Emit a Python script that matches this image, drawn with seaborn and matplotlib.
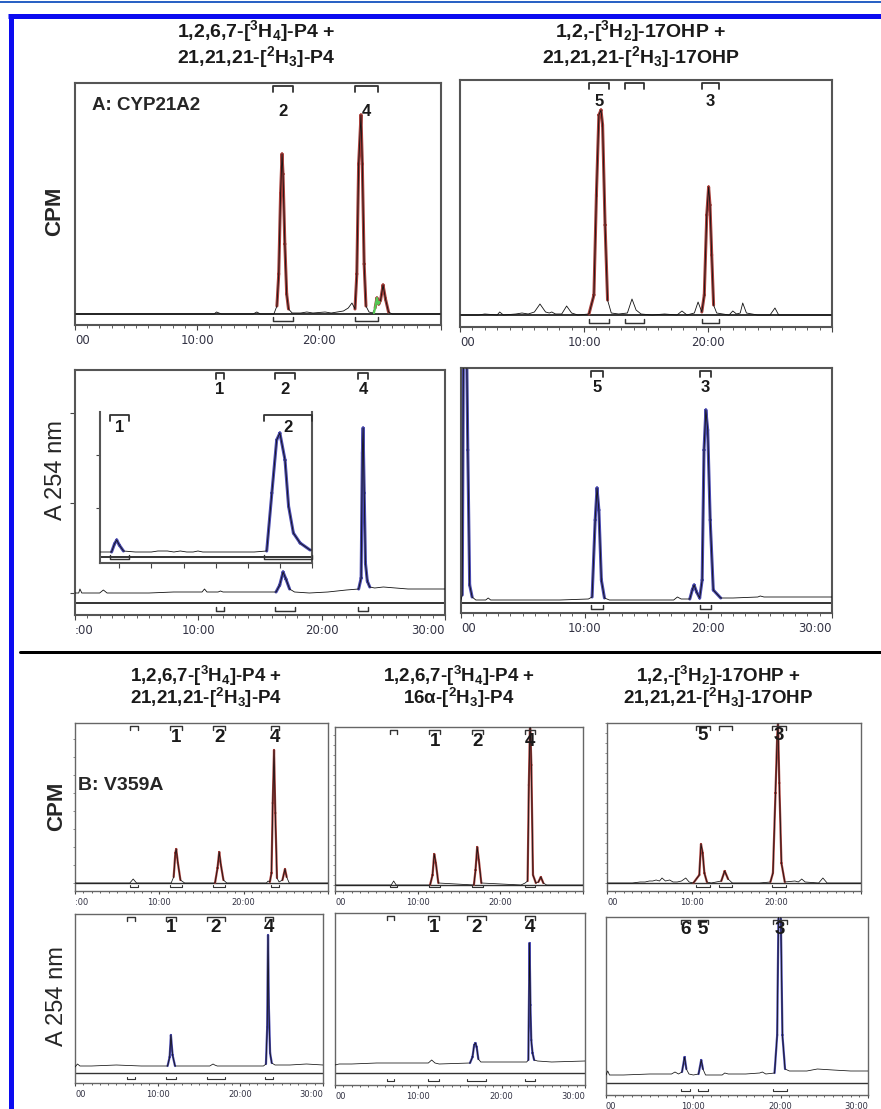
import numpy as np
import seaborn as sns
import matplotlib.pyplot as plt
from matplotlib import transforms
from matplotlib.ticker import MultipleLocator

# ---- values (time in min, signal in relative units) ----
# A: CYP21A2, P4 substrate, radio trace
a_cpm_p4_t = [0, 11.4, 11.6, 11.8, 12.0, 14.6, 14.9, 15.2, 16.3, 16.55, 16.7, 16.85, 16.97, 17.05,
              17.2, 17.35, 17.5, 17.8, 18.5, 19.0, 19.5, 20.5, 21.0, 21.5, 22.0, 22.4, 22.7, 22.95,
              23.1, 23.25, 23.44, 23.55, 23.7, 23.85, 24.1, 24.4, 24.6, 24.75, 24.9, 25.05, 25.25,
              25.45, 25.7, 26.0, 30]
a_cpm_p4_y = [0, 0, 2, 1, 0, 0, 2, 0, 0, 8, 40, 120, 160, 140, 70, 20, 5, 1, 1, 2, 1, 2, 1, 2, 3,
              6, 11, 5, 40, 150, 199, 150, 50, 8, 2, 1, 6, 16, 10, 14, 29, 15, 2, 0, 0]
a_cpm_p4_green_t = [24.5, 24.6, 24.75, 24.85, 24.95]
a_cpm_p4_green_y = [1, 6, 16, 10, 12]
a_cpm_p4_peaks = [(16.2, 17.9, "2"), (22.95, 24.8, "4")]

# A: CYP21A2, 17OHP substrate, radio trace
a_cpm_ohp_t = [0, 1.5, 2.0, 3.0, 3.2, 3.5, 4.5, 5.0, 5.5, 6.0, 6.45, 6.9, 7.2, 7.4, 7.7, 8.2, 8.6,
               9.0, 9.5, 10.4, 10.8, 11.0, 11.2, 11.37, 11.5, 11.7, 11.9, 12.2, 12.8, 13.5, 13.87,
               14.2, 14.6, 15.5, 16.5, 17.5, 17.9, 18.3, 18.9, 19.2, 19.5, 19.7, 19.9, 20.05, 20.16,
               20.3, 20.45, 20.7, 21.2, 21.7, 22.0, 22.3, 22.6, 22.8, 23.1, 24.0, 25.0, 25.4, 25.7,
               26.0, 30]
a_cpm_ohp_y = [0, 0, 1, 0, 3, 0, 1, 2, 1, 3, 11, 3, 2, 3, 1, 1, 9, 2, 0, 1, 20, 120, 200, 205, 190,
               90, 15, 2, 1, 2, 16, 5, 1, 0, 1, 0, 4, 0, 2, 13, 3, 20, 100, 128, 110, 60, 10, 2, 1,
               0, 4, 1, 2, 12, 2, 0, 0, 7, 0, 0, 0]
a_cpm_ohp_peaks = [(10.4, 12.0, "5"), (13.3, 14.8, ""), (19.5, 20.9, "3")]

# A: CYP21A2, P4 substrate, UV trace
a_uv_p4_t = [0, 0.3, 0.4, 0.55, 1.0, 2.0, 2.3, 2.6, 4.0, 6.0, 8.0, 10.3, 10.5, 10.7, 11.6, 11.8,
             12.0, 14.0, 16.3, 16.6, 16.87, 17.1, 17.4, 17.8, 19.0, 20.5, 22.0, 23.0, 23.2, 23.3,
             23.36, 23.45, 23.55, 23.7, 23.9, 24.3, 25.0, 26.0, 27.0, 28.0, 30]
a_uv_p4_y = [0, 0, 4, 0, 0, 0, 3, 0, 0, 0, 1, 1, 4, 1, 1, 2, 1, 1, 1, 8, 21, 14, 4, 1, 0, 1, 3, 4,
             15, 140, 165, 100, 30, 12, 6, 5, 6, 5, 4, 4, 4]
a_uv_p4_peaks = [(11.4, 12.1, "1"), (16.2, 17.8, "2"), (22.95, 23.76, "4")]

# inset: zoom of the same UV trace
inset_t = [11.4, 11.6, 11.76, 11.85, 11.92, 12.0, 12.13, 12.5, 13.0, 13.2, 13.5, 13.7, 13.9, 14.1,
           14.3, 14.45, 14.6, 15.5, 16.2, 16.59, 16.75, 16.9, 17.0, 17.16, 17.27, 17.42, 17.63,
           17.94, 18.0]
inset_y = [1, 1, 1, 9, 13, 8, 2, 1, 1, 2, 2, 1, 2, 1, 1, 2, 1, 1, 1, 2, 60, 113, 120, 93, 47, 20,
           10, 3, 3]
inset_peaks = [(11.7, 12.3, "1"), (16.5, 18.0, "2")]

# A: CYP21A2, 17OHP substrate, UV trace
a_uv_ohp_t = [0, 0.1, 0.2, 0.3, 0.45, 0.55, 0.7, 0.9, 1.2, 2.0, 2.2, 2.4, 5.0, 8.0, 10.3, 10.6,
              10.85, 11.0, 11.15, 11.35, 11.6, 12.0, 14.0, 17.2, 17.5, 17.8, 18.5, 18.7, 18.85,
              19.05, 19.3, 19.5, 19.65, 19.8, 19.95, 20.15, 20.4, 21.0, 22.0, 24.0, 24.2, 24.5,
              26.0, 28.0, 30]
a_uv_ohp_y = [0, 5, 260, 260, 260, 150, 15, 3, 0, 0, 2, 0, 0, 0, 1, 3, 80, 112, 90, 20, 2, 0, 0, 0,
              3, 1, 1, 10, 15, 8, 2, 20, 150, 190, 170, 80, 10, 2, 2, 3, 4, 3, 3, 3, 3]
a_uv_ohp_peaks = [(10.5, 11.5, "5"), (19.3, 20.2, "3")]

# B: V359A, radio traces
b_cpm_p4_t = [0, 6.5, 6.9, 7.3, 11.4, 11.7, 11.9, 12.0, 12.2, 12.5, 13.0, 16.6, 16.9, 17.1, 17.3,
              17.6, 18.0, 22.7, 22.9, 23.1, 23.3, 23.45, 23.6, 23.75, 23.95, 24.2, 24.6, 24.9,
              25.1, 25.4, 30]
b_cpm_p4_y = [0, 0, 4, 0, 0, 6, 30, 34, 20, 3, 0, 0, 15, 31, 18, 3, 0, 0, 2, 1, 10, 80, 133, 70,
              5, 1, 3, 14, 6, 0, 0]
b_cpm_p4_peaks = [(6.5, 7.5, ""), (11.3, 12.7, "1"), (16.4, 17.8, "2"), (23.2, 24.2, "4")]

b_cpm_p4a_t = [0, 6.8, 7.1, 7.4, 11.5, 11.8, 12.0, 12.2, 12.5, 16.8, 17.0, 17.2, 17.4, 17.7, 22.5,
               23.0, 23.3, 23.45, 23.6, 23.75, 23.95, 24.3, 24.6, 24.9, 25.2, 25.6, 30]
b_cpm_p4a_y = [0, 0, 4, 0, 0, 10, 31, 22, 2, 0, 15, 38, 25, 2, 0, 2, 4, 100, 165, 120, 10, 2, 3,
               8, 2, 0, 0]
b_cpm_p4a_peaks = [(6.6, 7.5, ""), (11.4, 12.7, "1"), (16.6, 17.9, "2"), (23.0, 24.2, "4")]

b_cpm_ohp_t = [0, 3.0, 3.9, 4.5, 5.0, 5.4, 5.8, 6.2, 6.5, 6.9, 7.4, 7.8, 8.3, 8.8, 9.3, 9.7, 10.2,
               10.9, 11.1, 11.3, 11.5, 11.8, 12.3, 13.5, 13.9, 14.3, 14.8, 16.0, 18.0, 19.3, 19.6,
               19.9, 20.1, 20.2, 20.35, 20.6, 21.0, 22.2, 22.6, 23.0, 23.4, 25.0, 25.5, 26.0, 30]
b_cpm_ohp_y = [0, 0, 1, 1, 2, 2, 3, 2, 5, 2, 3, 1, 1, 2, 5, 1, 0, 8, 39, 30, 10, 1, 0, 2, 12, 4,
               0, 0, 0, 1, 10, 90, 146, 160, 100, 20, 1, 2, 1, 4, 1, 0, 5, 0, 0]
b_cpm_ohp_peaks = [(10.5, 12.2, "5"), (13.2, 14.8, ""), (19.5, 21.1, "3")]

# B: V359A, UV traces
b_uv_p4_t = [0, 0.3, 0.6, 2.0, 5.0, 8.0, 10.5, 11.2, 11.45, 11.6, 11.8, 12.1, 12.5, 16.3, 16.7,
             16.9, 17.2, 20.0, 22.8, 23.1, 23.25, 23.35, 23.45, 23.6, 23.8, 24.2, 26.0, 28.0, 30]
b_uv_p4_y = [0, 3, 1, 1, 2, 1, 1, 1, 10, 32, 12, 1, 1, 1, 3, 2, 1, 1, 1, 3, 40, 132, 60, 14, 4,
             2, 2, 3, 2]
b_uv_p4_peaks = [(6.3, 7.3, ""), (11.0, 12.2, "1"), (16.0, 18.1, "2"), (23.0, 23.9, "4")]

b_uv_p4a_t = [0, 0.5, 2.0, 5.0, 8.0, 10.0, 11.2, 11.6, 12.0, 12.5, 16.2, 16.5, 16.7, 16.85, 17.0,
              17.2, 17.5, 20.0, 23.0, 23.2, 23.35, 23.45, 23.55, 23.7, 23.9, 24.3, 26.0, 30]
b_uv_p4a_y = [0, 1, 1, 2, 2, 2, 2, 5, 2, 1, 2, 8, 20, 22, 18, 6, 3, 3, 3, 5, 122, 60, 25, 12, 5,
              4, 3, 4]
b_uv_p4a_peaks = [(6.2, 7.1, ""), (11.2, 12.5, "1"), (15.8, 18.1, "2"), (22.8, 24.0, "4")]

b_uv_ohp_t = [0, 0.2, 0.4, 2.0, 5.0, 7.5, 7.9, 8.3, 8.7, 9.0, 9.2, 9.5, 10.0, 10.6, 10.9, 11.1,
              11.4, 12.0, 13.3, 13.6, 14.0, 16.0, 17.6, 17.9, 18.3, 19.3, 19.6, 19.8, 20.0, 20.2,
              20.5, 21.0, 23.0, 24.2, 26.0, 28.0, 30]
b_uv_ohp_y = [0, 4, 0, 0, 1, 1, 3, 1, 3, 18, 6, 1, 0, 1, 15, 6, 0, 0, 0, 2, 1, 1, 2, 3, 1, 2, 40,
              200, 170, 40, 6, 4, 4, 6, 5, 4, 4]
b_uv_ohp_peaks = [(8.6, 9.6, "6"), (10.5, 11.7, "5"), (19.1, 20.7, "3")]

title_p4 = [r"1,2,6,7-[$^{3}$H$_{4}$]-P4 +", r"21,21,21-[$^{2}$H$_{3}$]-P4"]
title_p4a = [r"1,2,6,7-[$^{3}$H$_{4}$]-P4 +", r"16α-[$^{2}$H$_{3}$]-P4"]
title_ohp = [r"1,2,-[$^{3}$H$_{2}$]-17OHP +", r"21,21,21-[$^{2}$H$_{3}$]-17OHP"]

# ---- style ----
sns.set_style("ticks")
plt.rcParams["font.family"] = ["Liberation Sans", "DejaVu Sans"]
plt.rcParams["mathtext.fontset"] = "custom"
for k in ["rm", "it", "bf", "sf"]:
    plt.rcParams["mathtext." + k] = "Liberation Sans:bold"

RED = "#a8403c"
BLUE = "#4a4ab0"
W, H = 881, 1109
PX = 0.72

STYLE_A = dict(spine_lw=1.5, spine_c="#555555", base_lw=1.4, trace_lw=0.6, peak_lw=2.2,
               lab_fs=12, tick_fs=8.5, maj=3.5, mnr=2.0, pad=3, brk_lw=1.3, brk_d=6)
STYLE_B = dict(spine_lw=1.0, spine_c="#666666", base_lw=1.0, trace_lw=0.55, peak_lw=1.6,
               lab_fs=13.5, tick_fs=6, maj=2.5, mnr=1.5, pad=2.5, brk_lw=1.0, brk_d=4)

fig = plt.figure(figsize=(W / 100, H / 100), dpi=100)

# page decoration: blue frame, top rule, separator between A and B
bg = fig.add_axes([0, 0, 1, 1], zorder=-5)
bg.set_xlim(0, W)
bg.set_ylim(H, 0)
bg.axis("off")
bg.plot([0, W], [2, 2], color="#2a62c4", lw=2 * PX)
bg.plot([10.5, 10.5], [14, H], color="#0b0bf0", lw=5 * PX, solid_capstyle="butt")
bg.plot([8, W], [16, 16], color="#0b0bf0", lw=5 * PX, solid_capstyle="butt")
bg.plot([20, W], [652, 652], color="black", lw=3 * PX)


def peak_segments(t, y, thr):
    # keep only the segments that belong to a peak, broken by NaN elsewhere
    xs, ys = [], []
    for i in range(len(t) - 1):
        if max(y[i], y[i + 1]) > thr:
            xs += [t[i], t[i + 1], np.nan]
            ys += [y[i], y[i + 1], np.nan]
    return xs, ys


def panel(rect, base, line, t, y, col, peaks, lab_off, st, xlabels, xlim=(0, 30), thr=7):
    l, tp, r, b = rect
    h = b - tp
    ax = fig.add_axes([l / W, 1 - b / H, (r - l) / W, h / H])
    ax.axhline(base - line, color="#333333", lw=st["base_lw"], zorder=1)
    px, py = peak_segments(t, y, thr)
    ax.plot(px, py, color=col, lw=st["peak_lw"], zorder=2, solid_capstyle="round")
    sns.lineplot(x=t, y=y, ax=ax, color="#111111", lw=st["trace_lw"], estimator=None,
                 sort=False, legend=False, zorder=3)
    ax.set_xlim(*xlim)
    ax.set_ylim(-(b - base), base - tp)
    ax.set_yticks([])
    for sp in ax.spines.values():
        sp.set_visible(True)
        sp.set_color(st["spine_c"])
        sp.set_linewidth(st["spine_lw"])
    if xlabels is not None:
        ax.set_xticks([0, 10, 20, 30])
        ax.set_xticklabels(xlabels)
        ax.xaxis.set_minor_locator(MultipleLocator(1))
        labs = ax.get_xticklabels()
        labs[0].set_ha("left")
        labs[-1].set_ha("right")
        for lb in labs:
            lb.set_fontfamily("DejaVu Sans")
    else:
        ax.xaxis.set_major_locator(MultipleLocator(1))
        ax.set_xticklabels([])
    ax.tick_params(axis="x", which="major", length=st["maj"], width=0.8, color="#444444",
                   labelsize=st["tick_fs"], labelcolor="#333344", pad=st["pad"])
    ax.tick_params(axis="x", which="minor", length=st["mnr"], width=0.6, color="#444444")
    ax.set_xlabel("")
    ax.set_ylabel("")
    tr = transforms.blended_transform_factory(ax.transData, ax.transAxes)
    top_y = 1 - 3 / h
    d = st["brk_d"] / h
    by = 4 / h
    for s, e, lab in peaks:
        ax.plot([s, s, e, e], [top_y - d, top_y, top_y, top_y - d], transform=tr,
                color="#333333", lw=st["brk_lw"], clip_on=False, zorder=4)
        ax.plot([s, s, e, e], [by + 0.6 * d, by, by, by + 0.6 * d], transform=tr,
                color="#333333", lw=st["brk_lw"] * 0.8, clip_on=False, zorder=4)
        if lab:
            ax.text((s + e) / 2, 1 - lab_off / h, lab, transform=tr, ha="center", va="center",
                    fontsize=st["lab_fs"], fontweight="bold", color="#1a1a1a", zorder=5)
    return ax


def left_minor_ticks(ax, step):
    ax.yaxis.set_minor_locator(MultipleLocator(step))
    ax.tick_params(axis="y", which="minor", left=True, length=1.8, width=0.6, color="#777777")


# ---- panel A ----
ax = panel((75, 83, 441, 325), 314, 314, a_cpm_p4_t, a_cpm_p4_y, RED, a_cpm_p4_peaks, 29,
           STYLE_A, ["00", "10:00", "20:00", ""], thr=12)
ax.plot(a_cpm_p4_green_t, a_cpm_p4_green_y, color="#55c855", lw=1.6, zorder=4)

panel((460, 80, 832, 327), 315, 315, a_cpm_ohp_t, a_cpm_ohp_y, RED, a_cpm_ohp_peaks, 22,
      STYLE_A, ["00", "10:00", "20:00", ""], thr=18)

ax = panel((75, 370, 445, 615), 593, 603, a_uv_p4_t, a_uv_p4_y, BLUE, a_uv_p4_peaks, 20,
           STYLE_A, [":00", "10:00", "20:00", "30:00"])
ax.set_yticks([0, 90, 180])
ax.tick_params(axis="y", left=True, labelleft=False, length=3.5, width=0.8, color="#444444")

ins = panel((100, 412, 312, 563), 553, 557, inset_t, inset_y, BLUE, inset_peaks, 15,
            STYLE_A, None, xlim=(11.4, 18.0))
ins.spines["top"].set_visible(False)
ins.set_zorder(5)
ins.set_yticks([45, 98])
ins.tick_params(axis="y", left=True, labelleft=False, length=3, width=0.8, color="#444444")

panel((461, 368, 832, 613), 600, 603, a_uv_ohp_t, a_uv_ohp_y, BLUE, a_uv_ohp_peaks, 20,
      STYLE_A, ["00", "10:00", "20:00", "30:00"])

# ---- panel B ----
ax = panel((75, 723, 328, 891), 883, 883, b_cpm_p4_t, b_cpm_p4_y, RED, b_cpm_p4_peaks, 14,
           STYLE_B, [":00", "10:00", "20:00", ""])
left_minor_ticks(ax, 18)
ax = panel((335, 727, 583, 891), 885, 885, b_cpm_p4a_t, b_cpm_p4a_y, RED, b_cpm_p4a_peaks, 15,
           STYLE_B, ["00", "10:00", "20:00", ""])
left_minor_ticks(ax, 10)
ax = panel((607, 723, 861, 891), 883, 883, b_cpm_ohp_t, b_cpm_ohp_y, RED, b_cpm_ohp_peaks, 12,
           STYLE_B, ["00", "10:00", "20:00", ""])
left_minor_ticks(ax, 10)
panel((75, 914, 323, 1083), 1067, 1073, b_uv_p4_t, b_uv_p4_y, BLUE, b_uv_p4_peaks, 13,
      STYLE_B, ["00", "10:00", "20:00", "30:00"])
panel((335, 913, 585, 1085), 1065, 1073, b_uv_p4a_t, b_uv_p4a_y, BLUE, b_uv_p4a_peaks, 15,
      STYLE_B, ["00", "10:00", "20:00", "30:00"])
panel((606, 917, 868, 1095), 1075, 1083, b_uv_ohp_t, b_uv_ohp_y, BLUE, b_uv_ohp_peaks, 13,
      STYLE_B, ["00", "10:00", "20:00", "30:00"])

# ---- titles and axis labels ----
def title(lines, x, y1, y2, fs):
    fig.text(x / W, 1 - y1 / H, lines[0], ha="center", va="center", fontsize=fs,
             fontweight="bold", color="#1a1a1a")
    fig.text(x / W, 1 - y2 / H, lines[1], ha="center", va="center", fontsize=fs,
             fontweight="bold", color="#1a1a1a")


title(title_p4, 256, 31, 57, 14)
title(title_ohp, 641, 31, 57, 14)
title(title_p4, 206, 676, 698, 13.5)
title(title_p4a, 459, 676, 698, 13.5)
title(title_ohp, 718, 676, 698, 13.5)

fig.text(55 / W, 1 - 211 / H, "CPM", rotation=90, ha="center", va="center", fontsize=16,
         fontweight="bold")
fig.text(56 / W, 1 - 470 / H, "A 254 nm", rotation=90, ha="center", va="center", fontsize=17)
fig.text(57 / W, 1 - 806 / H, "CPM", rotation=90, ha="center", va="center", fontsize=16,
         fontweight="bold")
fig.text(57 / W, 1 - 996 / H, "A 254 nm", rotation=90, ha="center", va="center", fontsize=17)

fig.text(92 / W, 1 - 105 / H, "A: CYP21A2", ha="left", va="center", fontsize=13.5,
         fontweight="bold")
fig.text(78 / W, 1 - 785 / H, "B: V359A", ha="left", va="center", fontsize=14,
         fontweight="bold")

fig.savefig("out.png", dpi=100)
